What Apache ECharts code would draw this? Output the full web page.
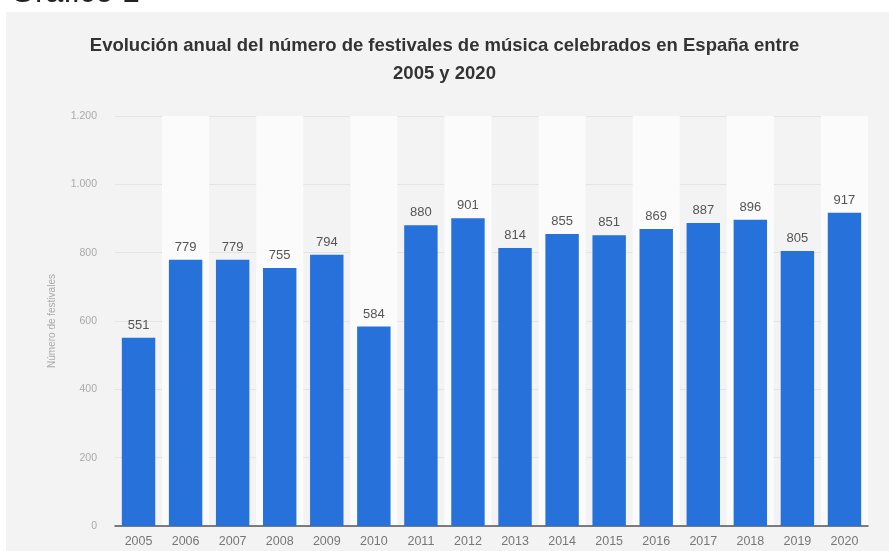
<!DOCTYPE html>
<html>
<head>
<meta charset="utf-8">
<script src="https://cdn.jsdelivr.net/npm/echarts@6/dist/echarts.min.js"></script>
<style>
  html, body { margin: 0; padding: 0; background: #fff; }
  #chart { width: 889px; height: 551px; }
</style>
</head>
<body>
<div id="chart"></div>
<script>
  // datos del gráfico
  const years = ["2005", "2006", "2007", "2008", "2009", "2010", "2011", "2012",
                 "2013", "2014", "2015", "2016", "2017", "2018", "2019", "2020"];
  const festivales = [551, 779, 779, 755, 794, 584, 880, 901, 814, 855, 851, 869, 887, 896, 805, 917];
  const yTicks = [0, 200, 400, 600, 800, 1000, 1200];

  const chart = echarts.init(document.getElementById("chart"));

  // separador de miles al estilo español
  function miles(v) {
    return String(v).replace(/\B(?=(\d{3})+(?!\d))/g, ".");
  }

  const option = {
    backgroundColor: "#ffffff",
    animation: false,
    graphic: [
      {
        type: "rect",
        left: 6,
        top: 12,
        shape: { width: 883, height: 539 },
        style: { fill: "#f3f3f3" },
        z: -10
      },
      {
        type: "text",
        left: 10,
        top: -23,
        style: {
          text: "Gráfico 1",
          font: "32px 'Liberation Sans', Arial, sans-serif",
          fill: "#222"
        }
      }
    ],
    title: {
      text: "Evolución anual del número de festivales de música celebrados en España entre\n2005 y 2020",
      left: "center",
      top: 27,
      textStyle: {
        fontFamily: "'Liberation Sans', Arial, sans-serif",
        fontSize: 18.5,
        fontWeight: "bold",
        color: "#333",
        lineHeight: 28
      }
    },
    grid: {
      left: 115,
      right: 21,
      top: 116,
      bottom: 25
    },
    xAxis: {
      type: "category",
      data: years,
      axisLine: { show: true, lineStyle: { color: "#555", width: 1.5 } },
      axisTick: { show: false },
      axisLabel: {
        color: "#777",
        fontSize: 12.5,
        margin: 9,
        fontFamily: "'Liberation Sans', Arial, sans-serif"
      },
      splitArea: {
        show: true,
        areaStyle: { color: ["rgba(0,0,0,0)", "#fbfbfb"] }
      }
    },
    yAxis: {
      type: "value",
      min: yTicks[0],
      max: yTicks[yTicks.length - 1],
      interval: 200,
      name: "Número de festivales",
      nameLocation: "middle",
      nameGap: 58,
      nameTextStyle: {
        color: "#aaa",
        fontSize: 10,
        fontFamily: "'Liberation Sans', Arial, sans-serif"
      },
      axisLine: { show: false },
      axisTick: { show: false },
      axisLabel: {
        color: "#aaa",
        fontSize: 10.5,
        margin: 18,
        fontFamily: "'Liberation Sans', Arial, sans-serif",
        formatter: miles
      },
      splitLine: { lineStyle: { color: "#e4e4e4", width: 1 } }
    },
    series: [
      {
        name: "Festivales",
        type: "bar",
        data: festivales,
        barCategoryGap: "29%",
        itemStyle: { color: "#2671da" },
        label: {
          show: true,
          position: "top",
          distance: 6,
          color: "#555",
          fontSize: 13,
          fontFamily: "'Liberation Sans', Arial, sans-serif"
        }
      }
    ]
  };

  chart.setOption(option);
</script>
</body>
</html>
